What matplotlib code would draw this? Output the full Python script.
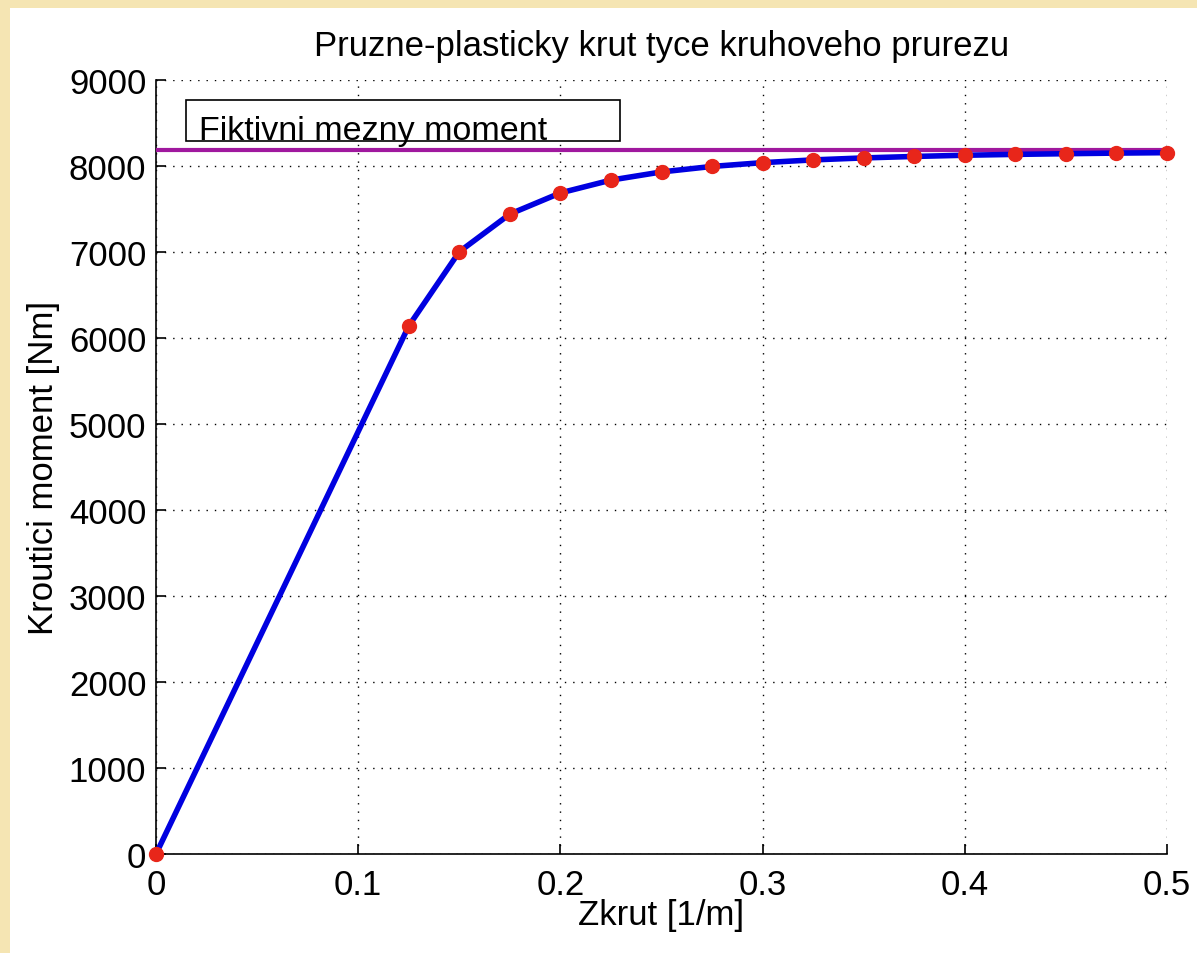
import matplotlib
matplotlib.use("Agg")
import matplotlib.pyplot as plt
from matplotlib.patches import Rectangle

plt.rcParams['font.family'] = ['Liberation Sans', 'DejaVu Sans']

# Data
zkrut = [0.0, 0.125, 0.15, 0.175, 0.2, 0.225, 0.25, 0.275, 0.3, 0.325,
         0.35, 0.375, 0.4, 0.425, 0.45, 0.475, 0.5]
moment = [0, 6140, 7003, 7441, 7687, 7836, 7931, 7995, 8039, 8071,
          8094, 8111, 8125, 8135, 8143, 8150, 8155]
mezny_moment = 8187
x_ticks = [0, 0.1, 0.2, 0.3, 0.4, 0.5]
x_tick_labels = ['0', '0.1', '0.2', '0.3', '0.4', '0.5']
y_ticks = [0, 1000, 2000, 3000, 4000, 5000, 6000, 7000, 8000, 9000]
title = 'Pruzne-plasticky krut tyce kruhoveho prurezu'
xlabel = 'Zkrut [1/m]'
ylabel = 'Kroutici moment [Nm]'
box_text = 'Fiktivni mezny moment'

W, H = 1197, 954
fig = plt.figure(figsize=(W / 100, H / 100), dpi=100)
fig.patch.set_facecolor('#f5e5b3')
fig.patches.append(Rectangle((10 / W, 0), 1 - 10 / W, 1 - 9 / H, transform=fig.transFigure,
                             facecolor='white', edgecolor='none', zorder=-10))

ax = fig.add_axes([156 / W, 1 - 855 / H, (1167 - 156) / W, (855 - 81) / H])
ax.set_zorder(5)
ax.set_facecolor('white')

ax.plot([0, 0.5], [mezny_moment, mezny_moment], color='#a0189e', lw=3.0, zorder=3,
        solid_capstyle='butt')
ax.plot(zkrut, moment, color='#0000e0', lw=4.0, zorder=4, solid_joinstyle='round')
ax.plot(zkrut, moment, linestyle='none', marker='o', markersize=10,
        markerfacecolor='#e8261a', markeredgecolor='#e8261a', zorder=5, clip_on=False)

ax.set_xlim(0, 0.5)
ax.set_ylim(0, 9000)
ax.set_xticks(x_ticks)
ax.set_xticklabels(x_tick_labels)
ax.set_yticks(y_ticks)
ax.grid(True, linestyle=(0, (1, 5)), color='black', lw=1.0)
ax.set_axisbelow(True)
for s in ['top', 'right']:
    ax.spines[s].set_visible(False)
for s in ['left', 'bottom']:
    ax.spines[s].set_linewidth(1.2)
ax.tick_params(direction='in', length=7, width=1.2, labelsize=25, pad=7)
ax.tick_params(axis='x', pad=10)

ax.set_title(title, fontsize=25, pad=18)
ax.set_xlabel(xlabel, fontsize=25, labelpad=-2)
ax.set_ylabel(ylabel, fontsize=25, labelpad=6)

ax.add_patch(Rectangle((0.0148, 8291), 0.2295 - 0.0148, 8767 - 8291, facecolor='white',
                       edgecolor='black', lw=1.2, zorder=2))
ax.text(0.0215, 8310, box_text, fontsize=24.5, va='baseline', ha='left', zorder=6)

fig.savefig('out.png', dpi=100, facecolor=fig.get_facecolor())
